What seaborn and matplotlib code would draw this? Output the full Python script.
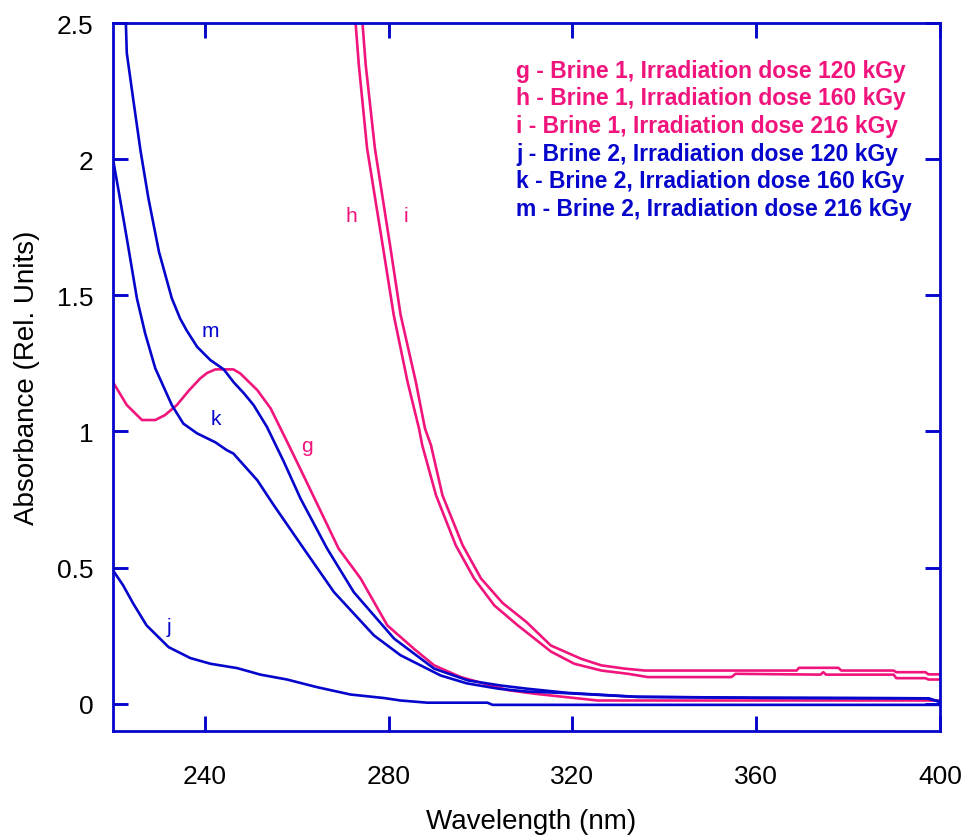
import matplotlib
matplotlib.use("Agg")
import matplotlib.pyplot as plt
import seaborn as sns
import pandas as pd

# ---- data ----
g_wl = [220, 220.4, 223, 226.3, 229.2, 231.3, 233.9, 236.5, 239, 240.5, 242.3, 246.2, 247.7,
        251.4, 254.3, 258.6, 262.3, 269.1, 273.9, 279.7, 285.5, 289.9, 295.7, 300.8, 306,
        311.7, 318.3, 325.5, 400]
g_abs = [1.18, 1.17, 1.097, 1.042, 1.042, 1.06, 1.097, 1.15, 1.195, 1.215, 1.228, 1.228, 1.213,
         1.152, 1.085, 0.938, 0.809, 0.57, 0.46, 0.288, 0.202, 0.141, 0.098, 0.074, 0.05,
         0.037, 0.025, 0.012, 0.012]

h_wl = [272.8, 273.5, 275.3, 278.8, 281.1, 284.1, 286.6, 287.3, 290.3, 294.6, 298.6,
        303, 308.1, 315.3, 320.4, 326.3, 332.1, 336.4, 354.6, 355.5, 374, 374.6, 375.2,
        389.9, 390.5, 396.8, 397.5, 400]
h_abs = [2.5, 2.347, 2.04, 1.673, 1.428, 1.183, 1.011, 0.95, 0.766, 0.582, 0.46,
         0.361, 0.288, 0.192, 0.147, 0.122, 0.110, 0.098, 0.098, 0.110, 0.107, 0.116, 0.107,
         0.107, 0.094, 0.094, 0.089, 0.089]

i_wl = [274.3, 275, 277, 280.4, 282.6, 285.9, 287.9, 289.2, 291.7, 296.1, 300.1,
        304.8, 310, 315.3, 321.9, 326.3, 331.4, 335.8, 368.8, 369.3, 377.9, 378.5, 389.9,
        390.5, 396.8, 397.5, 400]
i_abs = [2.5, 2.347, 2.04, 1.673, 1.428, 1.183, 1.011, 0.95, 0.766, 0.582, 0.46,
         0.37, 0.3, 0.214, 0.165, 0.141, 0.129, 0.122, 0.122, 0.132, 0.132, 0.122, 0.122,
         0.116, 0.116, 0.108, 0.108]

j_wl = [220, 222.2, 224.4, 227.3, 232.1, 236.8, 241.2, 247, 252.1, 257.9, 264.4, 271.7,
        279, 282.6, 288.4, 301.5, 302.6, 400]
j_abs = [0.49, 0.435, 0.368, 0.288, 0.208, 0.168, 0.147, 0.131, 0.107, 0.089, 0.061, 0.034,
         0.021, 0.012, 0.004, 0.004, -0.004, -0.004]

k_wl = [220, 221.5, 223.3, 225.2, 227, 229.2, 232.8, 235.3, 238.3, 242.3, 244.8, 246.2,
        251.4, 255, 261.5, 268.1, 276.8, 282.6, 291.3, 297, 304, 310, 317.5, 334.2, 360,
        397.6, 400]
k_abs = [2.0, 1.857, 1.68, 1.489, 1.36, 1.232, 1.097, 1.029, 0.993, 0.96, 0.931, 0.919,
         0.821, 0.729, 0.57, 0.41, 0.251, 0.178, 0.104, 0.075, 0.055, 0.045, 0.04, 0.025, 0.022,
         0.02, 0.006]

m_wl = [222.8, 223, 224.4, 226, 227.7, 230, 232.8, 234.6, 236, 238.3, 241.2, 244.1, 246.3,
        248.5, 250.6, 253.5, 257.2, 260.8, 266.6, 272.4, 281.2, 289.9, 297.2, 304.4, 310.3,
        319, 333.5, 360, 397, 400]
m_abs = [2.5, 2.39, 2.22, 2.03, 1.857, 1.66, 1.489, 1.415, 1.372, 1.311, 1.262, 1.228, 1.18,
         1.14, 1.097, 1.017, 0.888, 0.754, 0.57, 0.41, 0.239, 0.129, 0.086, 0.067, 0.055,
         0.04, 0.026, 0.022, 0.02, 0.008]

legend_lines = ["g - Brine 1, Irradiation dose 120 kGy",
                "h - Brine 1, Irradiation dose 160 kGy",
                "i - Brine 1, Irradiation dose 216 kGy",
                "j - Brine 2, Irradiation dose 120 kGy",
                "k - Brine 2, Irradiation dose 160 kGy",
                "m - Brine 2, Irradiation dose 216 kGy"]

x_ticks = [240, 280, 320, 360, 400]
y_ticks = [0, 0.5, 1, 1.5, 2, 2.5]
y_tick_labels = ["0", "0.5", "1", "1.5", "2", "2.5"]

# ---- styling ----
PINK = "#F0147C"
BLUE = "#0505CC"

sns.set_theme(style="white")
plt.rcParams['font.family'] = ['Liberation Sans', 'DejaVu Sans']

fig = plt.figure(figsize=(9.67, 8.37), dpi=100)
ax = fig.add_axes([113/967, 105/837, 827/967, 708/837])

series = [("g", g_wl, g_abs, PINK), ("h", h_wl, h_abs, PINK), ("i", i_wl, i_abs, PINK),
          ("j", j_wl, j_abs, BLUE), ("k", k_wl, k_abs, BLUE), ("m", m_wl, m_abs, BLUE)]
for name, wl, ab, col in series:
    df = pd.DataFrame({"wl": wl, "A": ab})
    sns.lineplot(data=df, x="wl", y="A", ax=ax, color=col, linewidth=1.9,
                 estimator=None, sort=False)

ax.set_xlim(220, 400)
ax.set_ylim(-0.1, 2.5)
ax.set_xticks(x_ticks)
ax.set_xticklabels([str(t) for t in x_ticks])
ax.set_yticks(y_ticks)
ax.set_yticklabels(y_tick_labels)

for sp in ax.spines.values():
    sp.set_color(BLUE)
    sp.set_linewidth(2.0)
    sp.set_visible(True)

ax.tick_params(axis="both", which="major", direction="in", length=10.5, width=2.1, color=BLUE,
               top=True, right=True, bottom=True, left=True,
               labelsize=19, labelcolor="black")
ax.tick_params(axis="x", pad=23.5)
ax.tick_params(axis="y", pad=14)

ax.set_xlabel("Wavelength (nm)", fontsize=20, color="black")
ax.set_ylabel("Absorbance (Rel. Units)", fontsize=20, color="black")
ax.xaxis.set_label_coords(0.505, -0.109)
ax.yaxis.set_label_coords(-0.088, 0.5)

# curve labels
curve_labels = [("g", 262.3, 0.95, PINK), ("h", 271.9, 1.794, PINK), ("i", 283.7, 1.794, PINK),
                ("j", 232.2, 0.283, BLUE), ("k", 242.3, 1.048, BLUE), ("m", 241.2, 1.371, BLUE)]
for t, x, y, c in curve_labels:
    ax.text(x, y, t, color=c, fontsize=15, ha="center", va="center")

# legend text block
leg_y = [2.326, 2.226, 2.123, 2.02, 1.921, 1.818]
for idx, (txt, y) in enumerate(zip(legend_lines, leg_y)):
    c = PINK if idx < 3 else BLUE
    ax.text(307.7, y, txt, color=c, fontsize=16.5, fontweight="bold", ha="left", va="center")

fig.savefig("out.png", dpi=100)
